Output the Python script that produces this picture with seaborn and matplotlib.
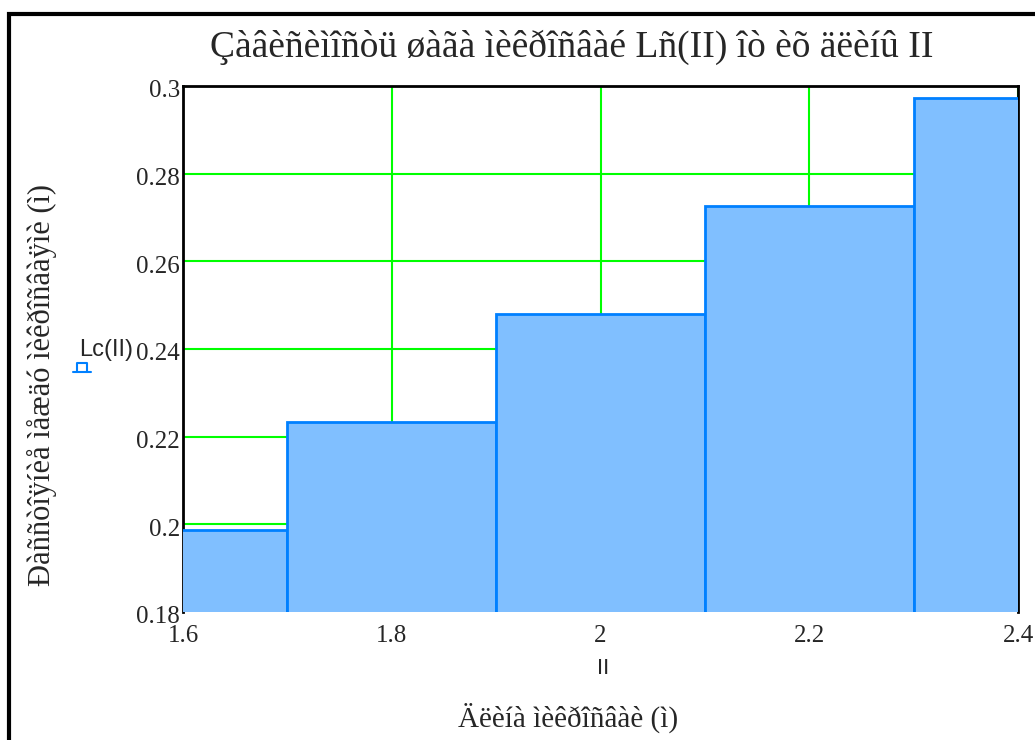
import matplotlib
matplotlib.use("Agg")
import matplotlib.pyplot as plt
from matplotlib.lines import Line2D
from matplotlib.patches import Rectangle
import seaborn as sns
import pandas as pd

# Pile length (m) and pile spacing (m)
pile_length = [1.6, 1.8, 2.0, 2.2, 2.4]
pile_spacing = [0.1987, 0.2233, 0.2480, 0.2726, 0.2973]

x_ticks = [1.6, 1.8, 2.0, 2.2, 2.4]
x_tick_labels = ["1.6", "1.8", "2", "2.2", "2.4"]
y_ticks = [0.18, 0.20, 0.22, 0.24, 0.26, 0.28, 0.30]
y_tick_labels = ["0.18", "0.2", "0.22", "0.24", "0.26", "0.28", "0.3"]

title_text = "Çàâèñèìîñòü øàãà ìèêðîñâàé Lñ(II) îò èõ äëèíû II"
ylabel_text = "Ðàññòîÿíèå ìåæäó ìèêðîñâàÿìè (ì)"
xlabel_text = "Äëèíà ìèêðîñâàè (ì)"

sns.set_style("white")
serif = ["Liberation Serif", "DejaVu Serif"]
sans = ["Liberation Sans", "DejaVu Sans"]

df = pd.DataFrame({"II": pile_length, "Lc": pile_spacing})

W, H = 1035, 740
fig = plt.figure(figsize=(W / 100, H / 100), dpi=100)
ax = fig.add_axes([183 / W, 1 - 612 / H, (1018 - 183) / W, (612 - 86) / H])

sns.barplot(data=df, x="II", y="Lc", native_scale=True, width=1.0,
            color="#80BFFF", edgecolor="#0080FF", linewidth=2.0,
            saturation=1, ax=ax)
for p in ax.patches:
    p.set_zorder(3)

ax.set_xlim(1.6, 2.4)
ax.set_ylim(0.18, 0.30)
ax.set_xticks(x_ticks)
ax.set_xticklabels(x_tick_labels, fontfamily=serif, fontsize=18)
ax.set_yticks(y_ticks)
ax.set_yticklabels(y_tick_labels, fontfamily=serif, fontsize=18)
ax.tick_params(axis="both", length=0)
ax.tick_params(axis="x", pad=9)
ax.tick_params(axis="y", pad=2)
# nudge y tick labels slightly below their grid lines
import matplotlib.transforms as mtransforms
offset = mtransforms.ScaledTranslation(0, -3 / 100, fig.dpi_scale_trans)
for lbl in ax.get_yticklabels():
    lbl.set_transform(lbl.get_transform() + offset)

ax.grid(True, color="#00FF00", linewidth=1.5)
ax.set_axisbelow(True)
ax.set_xlabel("")
ax.set_ylabel("")
for side in ["left", "top", "right"]:
    ax.spines[side].set_color("black")
    ax.spines[side].set_linewidth(2)
ax.spines["bottom"].set_visible(False)

# Titles and axis captions
fig.text(572 / W, 1 - 47 / H, title_text, ha="center", va="center",
         fontfamily=serif, fontsize=27)
fig.text(42 / W, 1 - 385 / H, ylabel_text, ha="center", va="center",
         rotation=90, fontfamily=serif, fontsize=22)
fig.text(568 / W, 1 - 718 / H, xlabel_text, ha="center", va="center",
         fontfamily=serif, fontsize=21)
fig.text(603 / W, 1 - 668 / H, "II", ha="center", va="center",
         fontfamily=sans, fontsize=16)
fig.text(106 / W, 1 - 350 / H, "Lc(II)", ha="center", va="center",
         fontfamily=sans, fontsize=17)

# Trace symbol next to the series name
tx = lambda px: px / W
ty = lambda py: 1 - py / H
fig.add_artist(Line2D([tx(73), tx(91)], [ty(372), ty(372)],
                      color="#0080FF", linewidth=1.5))
fig.add_artist(Line2D([tx(77), tx(77), tx(87), tx(87)],
                      [ty(372), ty(363), ty(363), ty(372)],
                      color="#0080FF", linewidth=1.5))

# Outer frame
fig.add_artist(Rectangle((tx(9), ty(760)), tx(1050) - tx(9), ty(14) - ty(760),
                         fill=False, edgecolor="black", linewidth=3,
                         transform=fig.transFigure, clip_on=False))

fig.savefig("out.png", dpi=100)
